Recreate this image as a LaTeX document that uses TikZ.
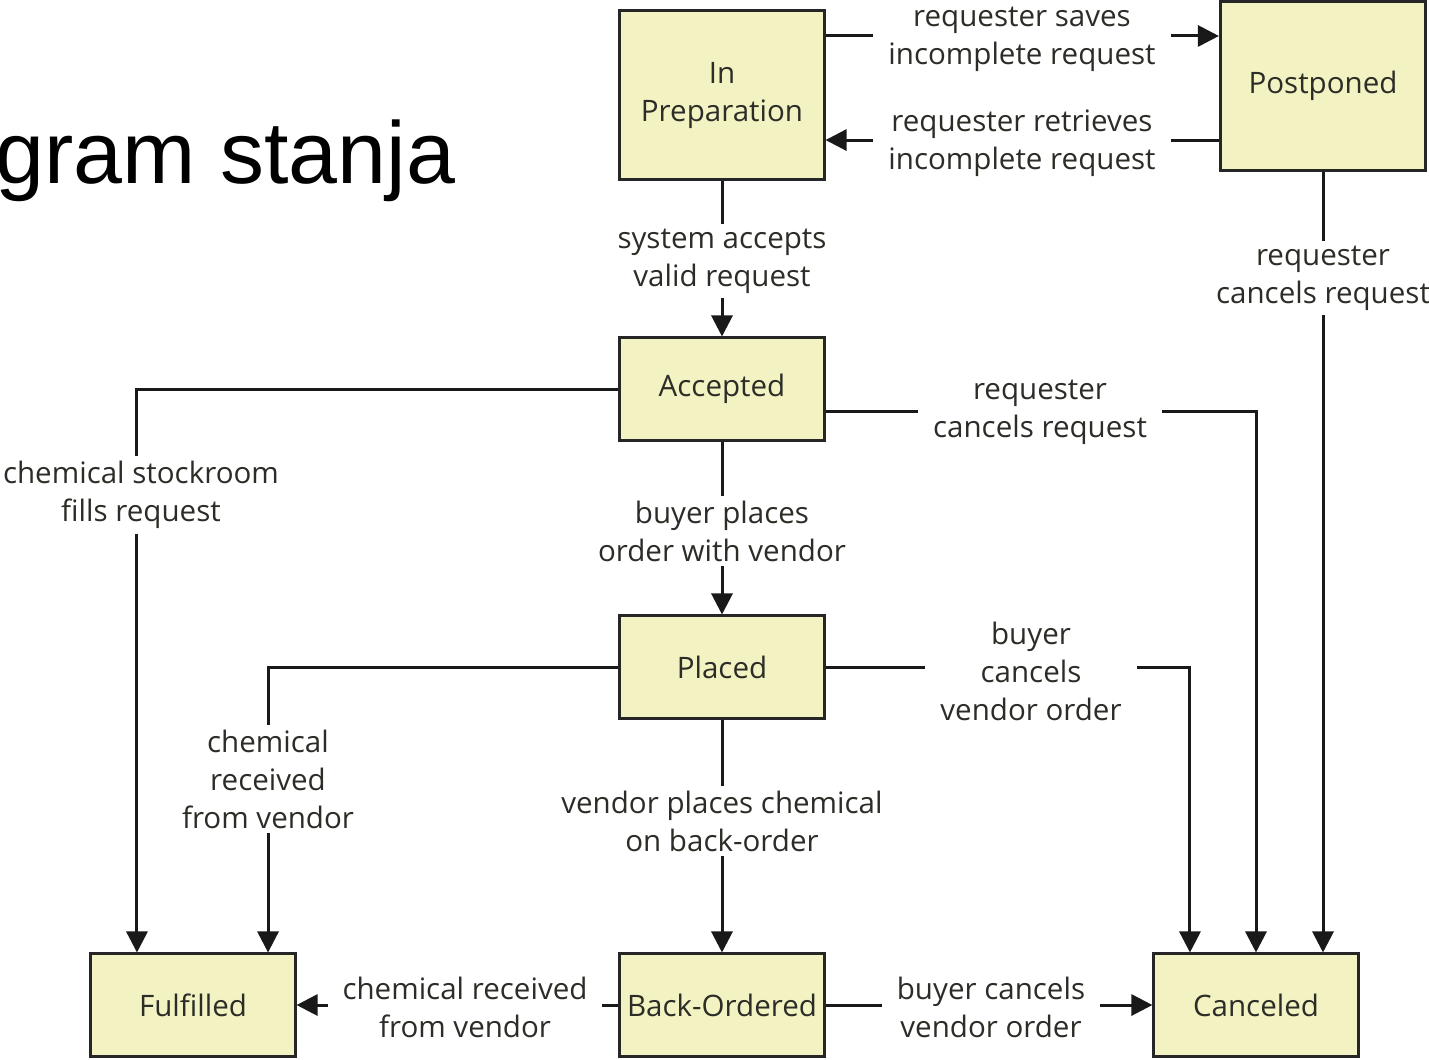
\documentclass[tikz,border=0pt]{standalone}
\usepackage{fontspec}
\setmainfont{Open Sans}
\newfontfamily\titlefont{Liberation Sans}
\usetikzlibrary{arrows.meta}
\definecolor{boxfill}{RGB}{242,242,194}
\definecolor{ink}{RGB}{45,45,40}
\begin{document}
\begin{tikzpicture}[x=0.01cm,y=-0.01cm,
  state/.style={draw=black!85, line width=0.03cm, fill=boxfill, minimum width=2.04cm,
    minimum height=1.02cm, inner sep=0pt, align=center, text=ink,
    font=\fontsize{8.4}{10.8}\selectfont},
  lab/.style={fill=white, align=center, text=ink, inner xsep=0.15cm, inner ysep=0.05cm,
    font=\fontsize{8.4}{10.8}\selectfont},
  conn/.style={line width=0.03cm, draw=black!90},
  arr/.style={conn, -{Triangle[length=0.21cm,width=0.21cm]}}]
\useasboundingbox (0,0) rectangle (1429,1059);
\node[anchor=base west, inner sep=0pt, font=\titlefont\fontsize{25}{30}\selectfont] (title) at (-5,183) {gram stanja};
% states
\node[state, minimum height=1.69cm] (prep) at (722,95) {In\\Preparation};
\node[state, minimum height=1.69cm, minimum width=2.05cm] (post) at (1323,86) {Postponed};
\node[state] (acc) at (722,389) {Accepted};
\node[state] (pla) at (722,667) {Placed};
\node[state] (ful) at (193,1005) {Fulfilled};
\node[state] (bo) at (722,1005) {Back-Ordered};
\node[state] (can) at (1256,1005) {Canceled};
% connectors
\draw[arr] ([yshift=0.59cm]prep.east) -- ([yshift=0.59cm]prep.east -| post.west);
\draw[arr] ([yshift=-0.54cm]post.west) -- ([yshift=-0.54cm]post.west -| prep.east);
\draw[arr] (prep.south) -- (acc.north);
\draw[arr] (post.south) -- (post.south |- can.north);
\draw[arr] ([yshift=-0.22cm]acc.east) -| (can.north);
\draw[arr] (acc.west) -| ([xshift=-0.56cm]ful.north);
\draw[arr] (acc.south) -- (pla.north);
\draw[arr] (pla.east) -| ([xshift=-0.66cm]can.north);
\draw[arr] (pla.west) -| ([xshift=0.75cm]ful.north);
\draw[arr] (pla.south) -- (bo.north);
\draw[arr] (bo.west) -- (ful.east);
\draw[arr] (bo.east) -- (can.west);
% labels
\node[lab] (l1) at (1022,39) {requester saves\\incomplete request};
\node[lab] (l2) at (1022,143) {requester retrieves\\incomplete request};
\node[lab] (l3) at (722,261) {system accepts\\valid request};
\node[lab] (l4) at (1323,278) {requester\\cancels request};
\node[lab] (l5) at (1040,412) {requester\\cancels request};
\node[lab] (l6) at (141,495) {chemical stockroom\\fills request};
\node[lab] (l7) at (722,531) {buyer places\\order with vendor};
\node[lab] (l8) at (1031,671) {buyer\\cancels\\vendor order};
\node[lab] (l9) at (268,779) {chemical\\received\\from vendor};
\node[lab] (l10) at (722,821) {vendor places chemical\\on back-order};
\node[lab] (l11) at (465,1007) {chemical received\\from vendor};
\node[lab] (l12) at (991,1007) {buyer cancels\\vendor order};
\end{tikzpicture}
\end{document}
